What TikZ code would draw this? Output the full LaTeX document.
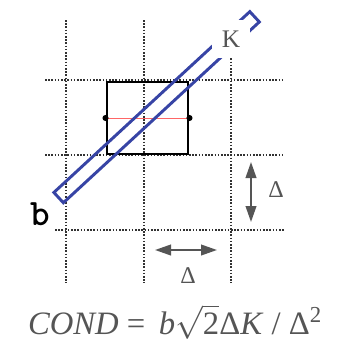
\documentclass[tikz,border=0pt]{standalone}
\usepackage{fontspec}
\setmainfont{Liberation Serif}
\newfontfamily\negritatt{lmmonolt10-bold.otf}
\usetikzlibrary{arrows.meta}
\definecolor{azulbarra}{RGB}{55,68,165}
\definecolor{grisrejilla}{RGB}{50,50,50}
\definecolor{gristexto}{RGB}{85,85,85}

\begin{document}
\begin{tikzpicture}[x=0.75pt, y=-0.75pt,
    rejilla/.style={grisrejilla, line width=2pt, dash pattern=on 1.2pt off 1.2pt},
    flecha/.style={{Triangle[length=12pt,width=8pt]}-{Triangle[length=12pt,width=8pt]}, line width=1.4pt, gristexto},
    etiqueta/.style={text=gristexto, font=\fontsize{18}{20}\selectfont, inner sep=0pt}]
        \fill[white] (0,0) rectangle (341,343);
        \useasboundingbox (0,0) rectangle (341,343);

        % Rejilla
        \foreach \x in {66,144,231}
            \draw[rejilla] (\x,20) -- (\x,283);
        \foreach \y in {80,155}
            \draw[rejilla] (45,\y) -- (283,\y);
        \draw[rejilla] (55,230) -- (285,230);

        % Celda
        \node[draw, line width=2.2pt, minimum width=60.75pt, minimum height=54pt, inner sep=0pt] (celda) at (147.5,118) {};
        \draw[red!60, line width=0.5pt] (celda.west) -- (celda.east);
        \fill (celda.west) circle (2.3pt);
        \fill (celda.east) circle (2.3pt);

        % Barra
        \node[draw=azulbarra, line width=2.2pt, minimum width=200pt, minimum height=10.5pt, inner sep=0pt, rotate=42.7] (barra) at (156.6,107.2) {};
        \node[fill=white, minimum size=28.5pt, inner sep=0pt, text=gristexto, font=\fontsize{19}{21}\selectfont] (K) at (231,39) {K};
        \node[font=\negritatt\fontsize{28}{30}\selectfont, inner sep=0pt] (b) at (40,214) {b};

        % Flechas
        \coordinate (va) at (251,162);
        \coordinate (vb) at (251,222);
        \draw[flecha] (va) -- (vb);
        \node[etiqueta] (dv) at (276,190) {Δ};
        \coordinate (ha) at (155,250);
        \coordinate (hb) at (217,250);
        \draw[flecha] (ha) -- (hb);
        \node[etiqueta] (dh) at (188,276) {Δ};

        % Formula
        \node[text=gristexto, font=\fontsize{24.5}{28}\selectfont, inner sep=0pt] (cond) at (175,322)
            {\textit{COND} = \,\textit{b}$\sqrt{\mbox{2}}$Δ\textit{K} / Δ\textsuperscript{2}};
    \end{tikzpicture}
\end{document}
